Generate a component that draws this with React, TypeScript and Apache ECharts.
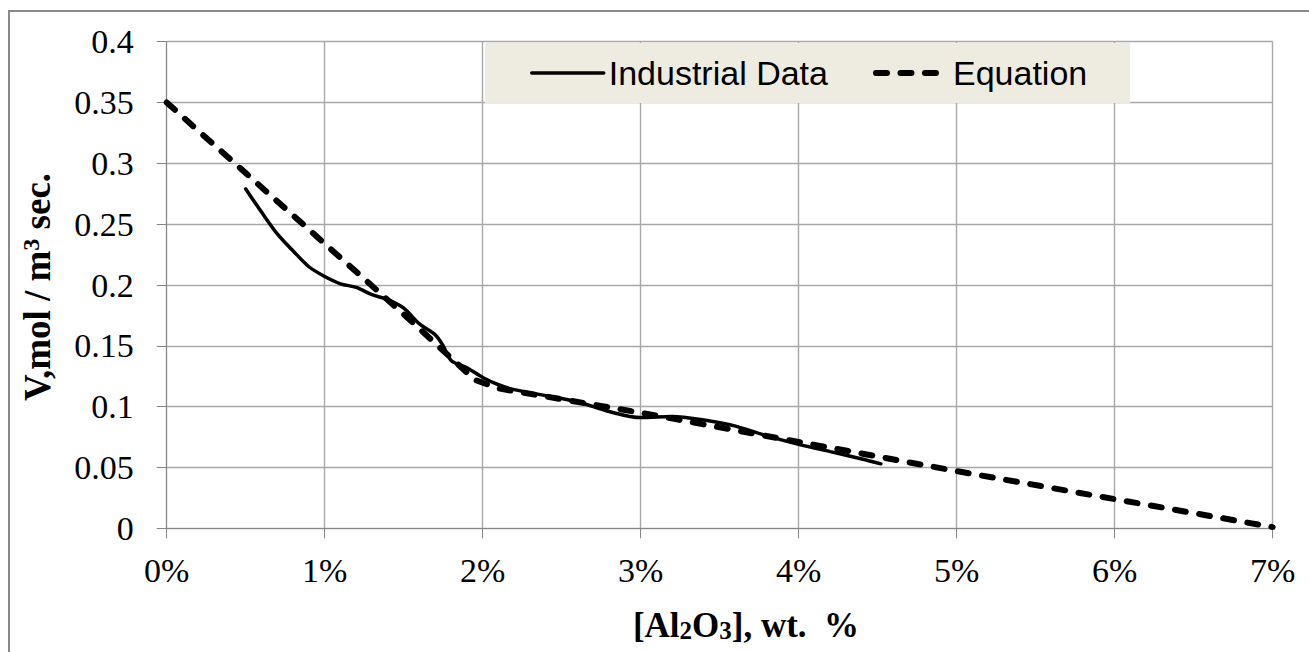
import { useEffect, useRef } from "react";
import * as echarts from "echarts";

// Axis ticks
const xTickValues = [0, 1, 2, 3, 4, 5, 6, 7];
const yTickLabels = ["0", "0.05", "0.1", "0.15", "0.2", "0.25", "0.3", "0.35", "0.4"];

// [Al2O3] in wt. %, rate in mol / m3 sec.
const industrialX = [0.5, 0.6, 0.7, 0.8, 0.9, 1.0, 1.1, 1.2, 1.3, 1.4, 1.5, 1.6, 1.7, 1.75, 1.8, 1.9, 2.0, 2.1, 2.2, 2.4, 2.6, 2.8, 3.0, 3.2, 3.4, 3.6, 3.8, 4.0, 4.2, 4.4, 4.52];
const industrialV = [0.279, 0.26, 0.242, 0.228, 0.215, 0.207, 0.201, 0.198, 0.192, 0.188, 0.181, 0.168, 0.159, 0.15, 0.138, 0.132, 0.124, 0.118, 0.114, 0.109, 0.104, 0.096, 0.091, 0.092, 0.089, 0.084, 0.076, 0.069, 0.063, 0.057, 0.053];

const equationX = [0, 0.5, 1.0, 1.5, 1.8, 1.95, 2.1, 3.0, 4.0, 5.0, 6.0, 7.0];
const equationV = [0.35, 0.292, 0.234, 0.176, 0.14, 0.122, 0.115, 0.095, 0.071, 0.047, 0.024, 0.001];

const seriesNames = ["Industrial Data", "Equation"];

const serif = "Liberation Serif";
const sans = "Liberation Sans";

const solidStyle = { color: "#000", width: 3.5, type: "solid" as const, cap: "round" as const };
const dashStyle = { color: "#000", width: 6, type: [11, 13.5], cap: "round" as const };

export default function App() {
  const ref = useRef<HTMLDivElement>(null);

  useEffect(() => {
    document.body.style.margin = "0";
    const chart = echarts.init(ref.current!, null, { renderer: "svg" });

    const industrial = industrialX.map((x, i) => [x, industrialV[i]]);
    const equation = equationX.map((x, i) => [x, equationV[i]]);

    const axisCommon = {
      axisLine: { show: true, lineStyle: { color: "#868686", width: 1 } },
      axisTick: { show: true, length: 10, lineStyle: { color: "#868686" } },
      splitLine: { show: true, lineStyle: { color: "#a8a8a8", width: 1.4 } },
    };

    chart.setOption({
      animation: false,
      backgroundColor: "#ffffff",
      textStyle: { fontFamily: serif },
      grid: { left: 166.7, right: 36.3, top: 41.7, bottom: 123.7, containLabel: false },
      legend: {
        data: [
          { name: seriesNames[0], lineStyle: { ...solidStyle } },
          { name: seriesNames[1], lineStyle: { ...dashStyle } },
        ],
        left: 485,
        top: 43,
        orient: "horizontal",
        backgroundColor: "#eeece1",
        padding: [13, 43, 13, 45],
        itemGap: 45,
        itemWidth: 72,
        itemHeight: 14,
        selectedMode: false,
        itemStyle: { color: "transparent", borderColor: "transparent", borderWidth: 0, opacity: 0 },
        textStyle: { fontFamily: sans, fontSize: 34, color: "#000" },
      },
      xAxis: {
        type: "value",
        min: 0,
        max: 7,
        interval: 1,
        ...axisCommon,
        axisLabel: {
          margin: 25,
          fontFamily: serif,
          fontSize: 34,
          color: "#000",
          formatter: (v: number) => (xTickValues.includes(v) ? `${v}%` : ""),
        },
      },
      yAxis: {
        type: "value",
        min: 0,
        max: 0.4,
        interval: 0.05,
        ...axisCommon,
        axisLabel: {
          margin: 33,
          fontFamily: serif,
          fontSize: 34,
          color: "#000",
          formatter: (v: number) => yTickLabels[Math.round(v / 0.05)] ?? "",
        },
      },
      series: [
        {
          name: seriesNames[0],
          type: "line",
          data: industrial,
          symbol: "none",
          smooth: 0.3,
          lineStyle: { ...solidStyle },
          itemStyle: { color: "#000" },
          z: 3,
        },
        {
          name: seriesNames[1],
          type: "line",
          data: equation,
          symbol: "none",
          smooth: false,
          lineStyle: { ...dashStyle },
          itemStyle: { color: "#000" },
          z: 4,
        },
      ],
      graphic: [
        {
          type: "rect",
          silent: true,
          shape: { x: 9, y: 11, width: 1400, height: 700 },
          style: { fill: "none", stroke: "#898989", lineWidth: 2 },
          z: 100,
        },
        {
          type: "text",
          x: 37,
          y: 287,
          rotation: Math.PI / 2,
          style: {
            text: "{b|V,mol / m}{sup|3}{b| sec.}",
            align: "center",
            verticalAlign: "middle",
            rich: {
              b: { fontFamily: serif, fontWeight: "bold", fontSize: 37, lineHeight: 37, fill: "#000" },
              sup: { fontFamily: serif, fontWeight: "bold", fontSize: 24, lineHeight: 24, verticalAlign: "top", fill: "#000" },
            },
          },
        },
        {
          type: "text",
          x: 746,
          y: 625,
          style: {
            text: "{b|[Al}{sub|2}{b|O}{sub|3}{b|], wt.  %}",
            align: "center",
            verticalAlign: "middle",
            rich: {
              b: { fontFamily: serif, fontWeight: "bold", fontSize: 35, lineHeight: 35, fill: "#000" },
              sub: { fontFamily: serif, fontWeight: "bold", fontSize: 25, lineHeight: 16, verticalAlign: "bottom", fill: "#000" },
            },
          },
        },
      ],
    });

    return () => chart.dispose();
  }, []);

  return <div ref={ref} style={{ width: 1309, height: 652 }} />;
}
